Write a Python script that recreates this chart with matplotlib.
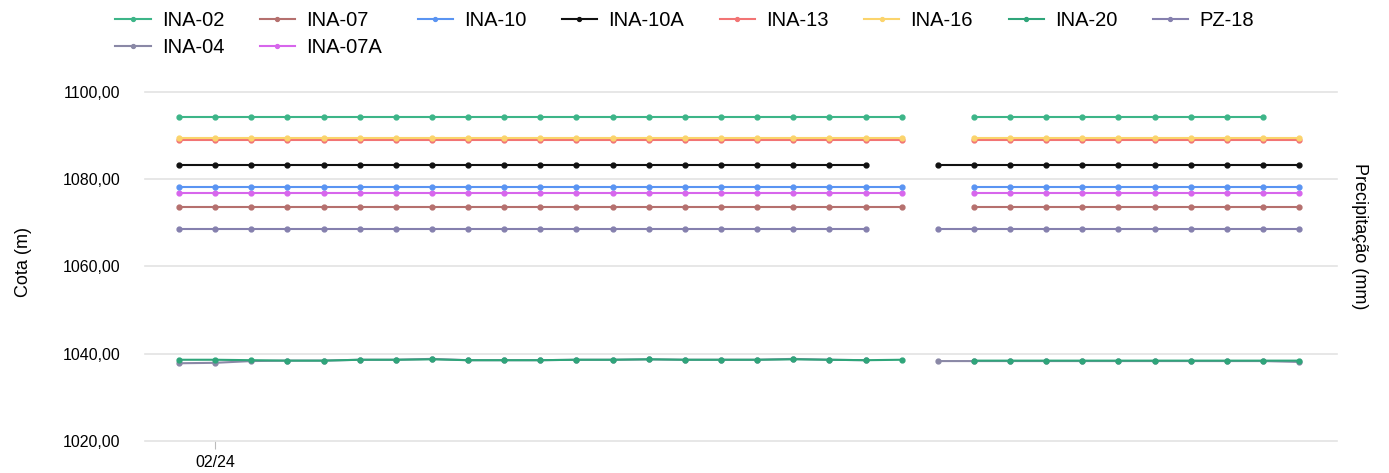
import numpy as np
import pandas as pd
import matplotlib
matplotlib.use('Agg')
import matplotlib.pyplot as plt
import matplotlib.dates as mdates

plt.rcParams['font.family'] = ['Liberation Sans', 'DejaVu Sans']

nan = np.nan

# daily readings
dates = pd.date_range('2024-02-23', periods=32, freq='D')

ina_02 = [1094.2, 1094.2, 1094.2, 1094.2, 1094.2, 1094.2, 1094.2, 1094.2, 1094.2, 1094.2, 1094.2,
          1094.2, 1094.2, 1094.2, 1094.2, 1094.2, 1094.2, 1094.2, 1094.2, 1094.2, 1094.2, nan,
          1094.2, 1094.2, 1094.2, 1094.2, 1094.2, 1094.2, 1094.2, 1094.2, 1094.2, nan]
ina_04 = [1037.8, 1037.9, 1038.3, 1038.4, 1038.4, 1038.6, 1038.6, 1038.8, 1038.5, 1038.5, 1038.5,
          1038.6, 1038.6, 1038.7, 1038.6, 1038.6, 1038.6, 1038.8, 1038.6, 1038.5, nan, 1038.3,
          1038.3, 1038.3, 1038.3, 1038.3, 1038.3, 1038.3, 1038.3, 1038.3, 1038.3, 1038.1]
ina_07 = [1073.6, 1073.6, 1073.6, 1073.6, 1073.6, 1073.6, 1073.6, 1073.6, 1073.6, 1073.6, 1073.6,
          1073.6, 1073.6, 1073.6, 1073.6, 1073.6, 1073.6, 1073.6, 1073.6, 1073.6, 1073.6, nan,
          1073.6, 1073.6, 1073.6, 1073.6, 1073.6, 1073.6, 1073.6, 1073.6, 1073.6, 1073.6]
ina_07a = [1076.9, 1076.9, 1076.9, 1076.9, 1076.9, 1076.9, 1076.9, 1076.9, 1076.9, 1076.9, 1076.9,
           1076.9, 1076.9, 1076.9, 1076.9, 1076.9, 1076.9, 1076.9, 1076.9, 1076.9, 1076.9, nan,
           1076.9, 1076.9, 1076.9, 1076.9, 1076.9, 1076.9, 1076.9, 1076.9, 1076.9, 1076.9]
ina_10 = [1078.2, 1078.2, 1078.2, 1078.2, 1078.2, 1078.2, 1078.2, 1078.2, 1078.2, 1078.2, 1078.2,
          1078.2, 1078.2, 1078.2, 1078.2, 1078.2, 1078.2, 1078.2, 1078.2, 1078.2, 1078.2, nan,
          1078.2, 1078.2, 1078.2, 1078.2, 1078.2, 1078.2, 1078.2, 1078.2, 1078.2, 1078.2]
ina_10a = [1083.1, 1083.1, 1083.1, 1083.1, 1083.1, 1083.1, 1083.1, 1083.1, 1083.1, 1083.1, 1083.1,
           1083.1, 1083.1, 1083.1, 1083.1, 1083.1, 1083.1, 1083.1, 1083.1, 1083.1, nan, 1083.1,
           1083.1, 1083.1, 1083.1, 1083.1, 1083.1, 1083.1, 1083.1, 1083.1, 1083.1, 1083.1]
ina_13 = [1088.9, 1088.9, 1088.9, 1088.9, 1088.9, 1088.9, 1088.9, 1088.9, 1088.9, 1088.9, 1088.9,
          1088.9, 1088.9, 1088.9, 1088.9, 1088.9, 1088.9, 1088.9, 1088.9, 1088.9, 1088.9, nan,
          1088.9, 1088.9, 1088.9, 1088.9, 1088.9, 1088.9, 1088.9, 1088.9, 1088.9, 1088.9]
ina_16 = [1089.4, 1089.4, 1089.4, 1089.4, 1089.4, 1089.4, 1089.4, 1089.4, 1089.4, 1089.4, 1089.4,
          1089.4, 1089.4, 1089.4, 1089.4, 1089.4, 1089.4, 1089.4, 1089.4, 1089.4, 1089.4, nan,
          1089.4, 1089.4, 1089.4, 1089.4, 1089.4, 1089.4, 1089.4, 1089.4, 1089.4, 1089.4]
ina_20 = [1038.6, 1038.6, 1038.5, 1038.4, 1038.4, 1038.6, 1038.6, 1038.7, 1038.5, 1038.5, 1038.5,
          1038.6, 1038.6, 1038.7, 1038.6, 1038.6, 1038.6, 1038.7, 1038.6, 1038.5, 1038.6, nan,
          1038.4, 1038.4, 1038.4, 1038.4, 1038.4, 1038.4, 1038.4, 1038.4, 1038.4, 1038.4]
pz_18 = [1068.6, 1068.6, 1068.6, 1068.6, 1068.6, 1068.6, 1068.6, 1068.6, 1068.6, 1068.6, 1068.6,
         1068.6, 1068.6, 1068.6, 1068.6, 1068.6, 1068.6, 1068.6, 1068.6, 1068.6, nan, 1068.6,
         1068.6, 1068.6, 1068.6, 1068.6, 1068.6, 1068.6, 1068.6, 1068.6, 1068.6, 1068.6]

names = ['INA-02', 'INA-04', 'INA-07', 'INA-07A', 'INA-10', 'INA-10A',
         'INA-13', 'INA-16', 'INA-20', 'PZ-18']
series = [ina_02, ina_04, ina_07, ina_07a, ina_10, ina_10a, ina_13, ina_16, ina_20, pz_18]
colors = ['#3db588', '#8a88a6', '#b5706e', '#d766ec', '#5a94f2', '#111111',
          '#f27474', '#fbd46c', '#2fa57a', '#8580ae']

fig = plt.figure(figsize=(13.89, 4.73), dpi=100)
ax = fig.add_axes([0.1044, 0.0677, 0.8582, 0.757])

for name, vals, c in zip(names, series, colors):
    ax.plot(dates, vals, color=c, lw=1.5, marker='o', ms=3.5, label=name)

x0 = dates[0] - pd.Timedelta(hours=22.6)
x1 = dates[0] + pd.Timedelta(days=32.05)
ax.set_xlim(x0, x1)
ax.set_ylim(1020, 1102)
ax.set_yticks([1020, 1040, 1060, 1080, 1100])
ax.set_yticklabels(['1020,00', '1040,00', '1060,00', '1080,00', '1100,00'])
ax.yaxis.grid(True, color='#e3e3e3', lw=1.2)
for gl in ax.get_ygridlines():
    gl.set_clip_on(False)
ax.set_axisbelow(True)
for s in ax.spines.values():
    s.set_visible(False)

ax.set_xticks([pd.Timestamp('2024-02-24')])
ax.xaxis.set_major_formatter(mdates.DateFormatter('%m/%d'))
ax.tick_params(axis='x', length=6, color='#bbbbbb', labelsize=11.5, pad=4)
ax.tick_params(axis='y', length=0, labelsize=11.5, pad=18)

ax.set_ylabel('Cota (m)', fontsize=13, labelpad=22)
fig.text(0.979, 0.5, 'Precipitação (mm)', rotation=-90, fontsize=13,
         ha='center', va='center')

fig.legend(loc='upper left', bbox_to_anchor=(0.0758, 0.998), ncol=8, frameon=False,
           fontsize=14.5, handlelength=1.75, handletextpad=0.55, columnspacing=1.77,
           borderpad=0, labelspacing=0.4, markerscale=0.8)

fig.savefig('out.png', dpi=100)
